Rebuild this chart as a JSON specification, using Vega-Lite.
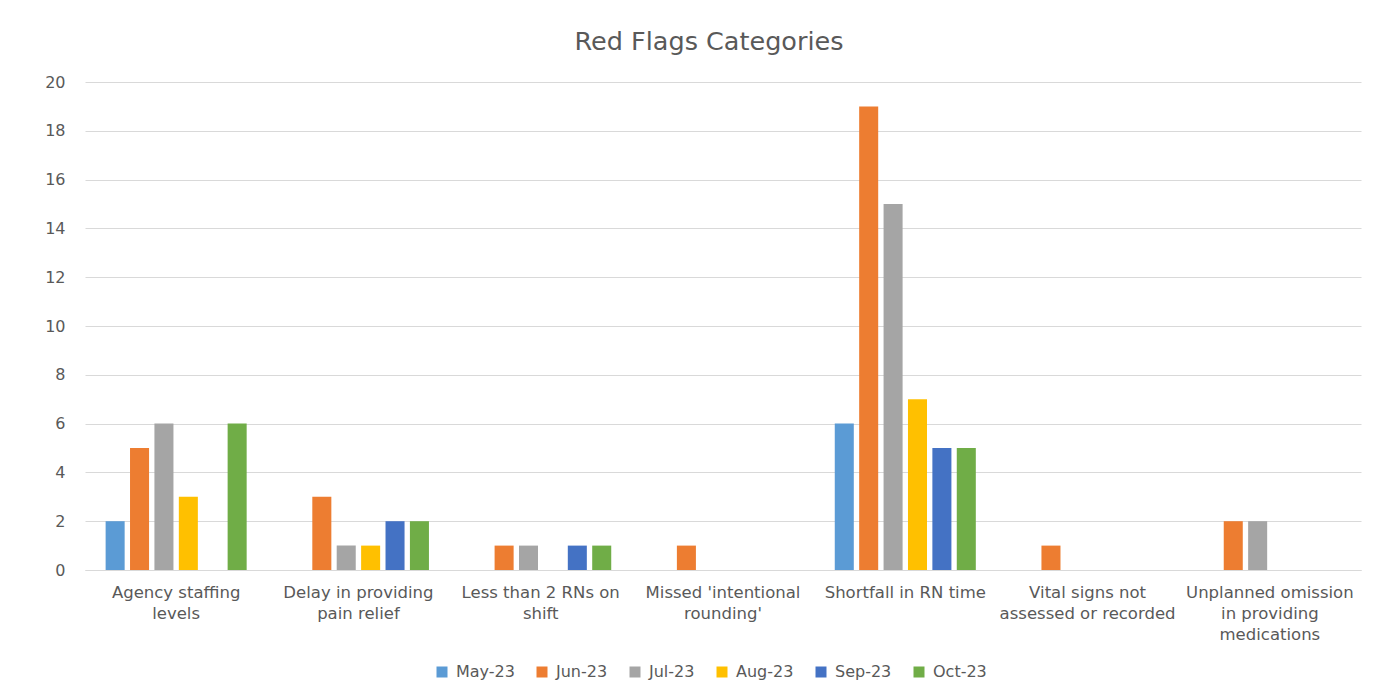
{
  "$schema": "https://vega.github.io/schema/vega-lite/v6.json",
  "width": 1276,
  "height": 488,
  "autosize": {"type": "none"},
  "padding": {"left": 85, "top": 82, "right": 25, "bottom": 127},
  "background": "white",
  "title": {
    "text": "Red Flags Categories",
    "font": "DejaVu Sans",
    "fontSize": 25.5,
    "fontWeight": "normal",
    "color": "#595959",
    "anchor": "middle",
    "frame": "group",
    "dx": -14,
    "offset": 19
  },
  "data": {
    "values": [
      {"category": "Agency staffing levels", "month": "May-23", "count": 2},
      {"category": "Agency staffing levels", "month": "Jun-23", "count": 5},
      {"category": "Agency staffing levels", "month": "Jul-23", "count": 6},
      {"category": "Agency staffing levels", "month": "Aug-23", "count": 3},
      {"category": "Agency staffing levels", "month": "Sep-23", "count": 0},
      {"category": "Agency staffing levels", "month": "Oct-23", "count": 6},
      {"category": "Delay in providing pain relief", "month": "May-23", "count": 0},
      {"category": "Delay in providing pain relief", "month": "Jun-23", "count": 3},
      {"category": "Delay in providing pain relief", "month": "Jul-23", "count": 1},
      {"category": "Delay in providing pain relief", "month": "Aug-23", "count": 1},
      {"category": "Delay in providing pain relief", "month": "Sep-23", "count": 2},
      {"category": "Delay in providing pain relief", "month": "Oct-23", "count": 2},
      {"category": "Less than 2 RNs on shift", "month": "May-23", "count": 0},
      {"category": "Less than 2 RNs on shift", "month": "Jun-23", "count": 1},
      {"category": "Less than 2 RNs on shift", "month": "Jul-23", "count": 1},
      {"category": "Less than 2 RNs on shift", "month": "Aug-23", "count": 0},
      {"category": "Less than 2 RNs on shift", "month": "Sep-23", "count": 1},
      {"category": "Less than 2 RNs on shift", "month": "Oct-23", "count": 1},
      {"category": "Missed 'intentional rounding'", "month": "May-23", "count": 0},
      {"category": "Missed 'intentional rounding'", "month": "Jun-23", "count": 1},
      {"category": "Missed 'intentional rounding'", "month": "Jul-23", "count": 0},
      {"category": "Missed 'intentional rounding'", "month": "Aug-23", "count": 0},
      {"category": "Missed 'intentional rounding'", "month": "Sep-23", "count": 0},
      {"category": "Missed 'intentional rounding'", "month": "Oct-23", "count": 0},
      {"category": "Shortfall in RN time", "month": "May-23", "count": 6},
      {"category": "Shortfall in RN time", "month": "Jun-23", "count": 19},
      {"category": "Shortfall in RN time", "month": "Jul-23", "count": 15},
      {"category": "Shortfall in RN time", "month": "Aug-23", "count": 7},
      {"category": "Shortfall in RN time", "month": "Sep-23", "count": 5},
      {"category": "Shortfall in RN time", "month": "Oct-23", "count": 5},
      {"category": "Vital signs not assessed or recorded", "month": "May-23", "count": 0},
      {"category": "Vital signs not assessed or recorded", "month": "Jun-23", "count": 1},
      {"category": "Vital signs not assessed or recorded", "month": "Jul-23", "count": 0},
      {"category": "Vital signs not assessed or recorded", "month": "Aug-23", "count": 0},
      {"category": "Vital signs not assessed or recorded", "month": "Sep-23", "count": 0},
      {"category": "Vital signs not assessed or recorded", "month": "Oct-23", "count": 0},
      {"category": "Unplanned omission in providing medications", "month": "May-23", "count": 0},
      {"category": "Unplanned omission in providing medications", "month": "Jun-23", "count": 2},
      {"category": "Unplanned omission in providing medications", "month": "Jul-23", "count": 2},
      {"category": "Unplanned omission in providing medications", "month": "Aug-23", "count": 0},
      {"category": "Unplanned omission in providing medications", "month": "Sep-23", "count": 0},
      {"category": "Unplanned omission in providing medications", "month": "Oct-23", "count": 0}
    ]
  },
  "mark": {"type": "bar"},
  "encoding": {
    "x": {
      "field": "category",
      "type": "nominal",
      "sort": null,
      "scale": {"paddingInner": 0, "paddingOuter": 0},
      "axis": {
        "title": null,
        "labelAngle": 0,
        "ticks": false,
        "domainColor": "#D9D9D9",
        "domainWidth": 1,
        "labelFont": "DejaVu Sans",
        "labelFontSize": 16.5,
        "labelColor": "#595959",
        "labelPadding": 14,
        "labelLineHeight": 21,
        "labelBaseline": "top",
        "labelLimit": 300,
        "labelExpr": "datum.value == 'Agency staffing levels' ? ['Agency staffing', 'levels'] : datum.value == 'Delay in providing pain relief' ? ['Delay in providing', 'pain relief'] : datum.value == 'Less than 2 RNs on shift' ? ['Less than 2 RNs on', 'shift'] : datum.value == \"Missed 'intentional rounding'\" ? [\"Missed 'intentional\", \"rounding'\"] : datum.value == 'Vital signs not assessed or recorded' ? ['Vital signs not', 'assessed or recorded'] : datum.value == 'Unplanned omission in providing medications' ? ['Unplanned omission', 'in providing', 'medications'] : datum.value"
      }
    },
    "xOffset": {
      "field": "month",
      "type": "nominal",
      "sort": ["May-23", "Jun-23", "Jul-23", "Aug-23", "Sep-23", "Oct-23"],
      "scale": {"paddingInner": 0.22, "paddingOuter": 0.845}
    },
    "y": {
      "field": "count",
      "type": "quantitative",
      "scale": {"domain": [0, 20], "nice": false},
      "axis": {
        "title": null,
        "values": [0, 2, 4, 6, 8, 10, 12, 14, 16, 18, 20],
        "domain": false,
        "ticks": false,
        "gridColor": "#D9D9D9",
        "gridWidth": 1,
        "labelFont": "DejaVu Sans",
        "labelFontSize": 16,
        "labelColor": "#595959",
        "labelPadding": 20
      }
    },
    "color": {
      "field": "month",
      "type": "nominal",
      "sort": ["May-23", "Jun-23", "Jul-23", "Aug-23", "Sep-23", "Oct-23"],
      "scale": {
        "domain": ["May-23", "Jun-23", "Jul-23", "Aug-23", "Sep-23", "Oct-23"],
        "range": ["#5B9BD5", "#ED7D31", "#A5A5A5", "#FFC000", "#4472C4", "#70AD47"]
      },
      "legend": {
        "title": null,
        "orient": "none",
        "direction": "horizontal",
        "columns": 6,
        "legendX": 349,
        "legendY": 582,
        "padding": 0,
        "symbolType": "square",
        "symbolSize": 121,
        "symbolStrokeWidth": 0,
        "symbolOpacity": 1,
        "labelFont": "DejaVu Sans",
        "labelFontSize": 16,
        "labelColor": "#595959",
        "labelOffset": 6,
        "columnPadding": 19
      }
    }
  },
  "config": {
    "view": {"stroke": null}
  }
}
